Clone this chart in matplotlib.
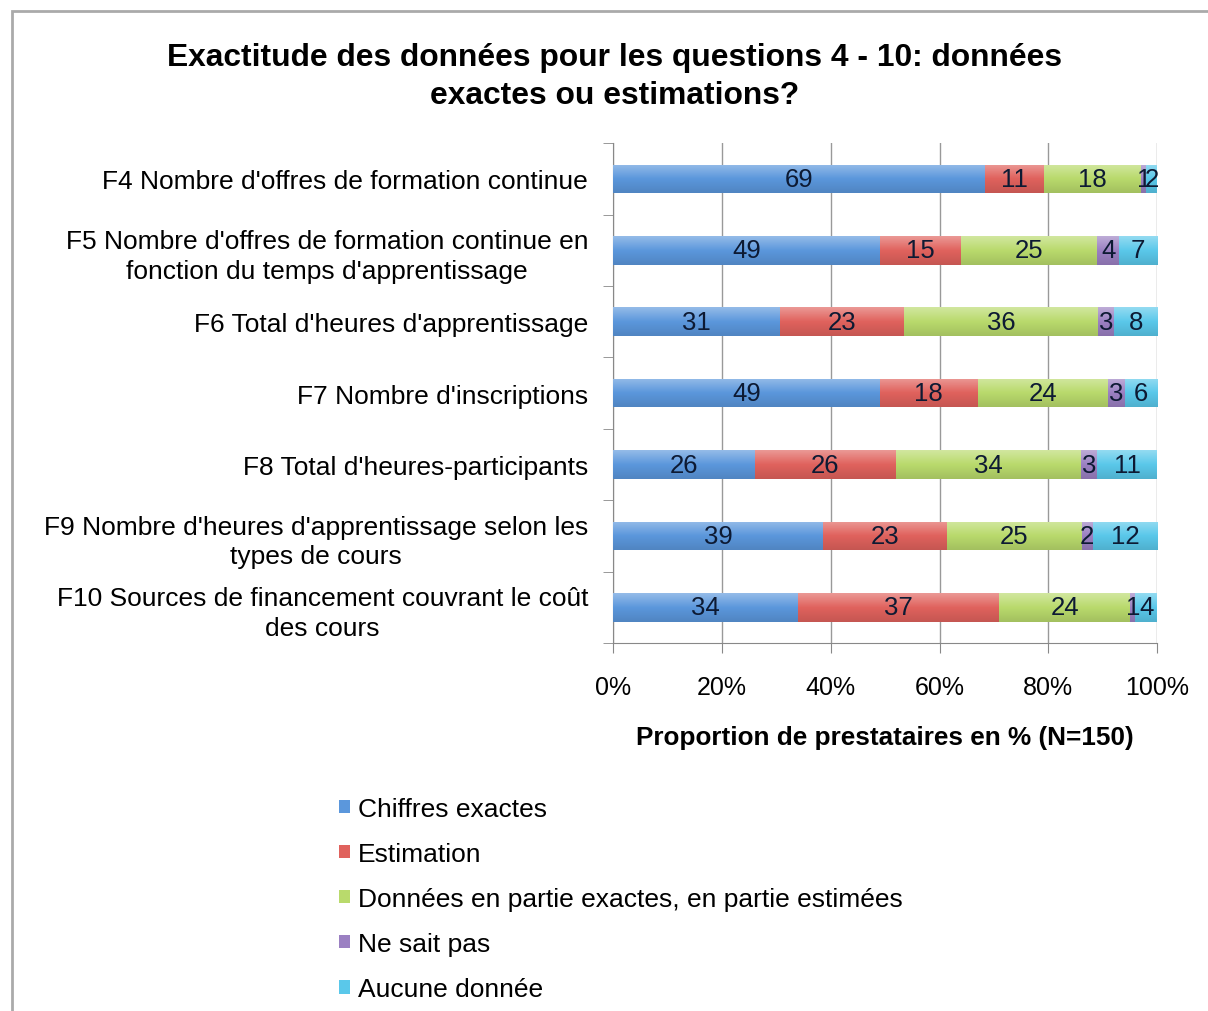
import numpy as np
import matplotlib
matplotlib.use('Agg')
import matplotlib.pyplot as plt
from matplotlib.colors import to_rgb, LinearSegmentedColormap
from matplotlib.patches import Rectangle

plt.rcParams['font.family'] = ['Liberation Sans', 'DejaVu Sans']

categories = [
    "F4 Nombre d'offres de formation continue",
    "F5 Nombre d'offres de formation continue en\nfonction du temps d'apprentissage",
    "F6 Total d'heures d'apprentissage",
    "F7 Nombre d'inscriptions",
    "F8 Total d'heures-participants",
    "F9 Nombre d'heures d'apprentissage selon les\ntypes de cours",
    "F10 Sources de financement couvrant le coût\ndes cours",
]
series_names = [
    "Chiffres exactes",
    "Estimation",
    "Données en partie exactes, en partie estimées",
    "Ne sait pas",
    "Aucune donnée",
]
exactes = [69, 49, 31, 49, 26, 39, 34]
estimation = [11, 15, 23, 18, 26, 23, 37]
en_partie = [18, 25, 36, 24, 34, 25, 24]
ne_sait_pas = [1, 4, 3, 3, 3, 2, 1]
aucune = [2, 7, 8, 6, 11, 12, 4]
colors = ['#5b97dc', '#e0625d', '#b9da6c', '#9b80c2', '#5ac8ea']

values = np.array([exactes, estimation, en_partie, ne_sait_pas, aucune], dtype=float)
pct = values / values.sum(axis=0) * 100

fig = plt.figure(figsize=(12.08, 10.12), dpi=100)
ax = fig.add_axes([0.5075, 0.3635, 0.4505, 0.494])

y = np.arange(len(categories))
left = np.zeros(len(categories))
grad = np.linspace(0, 1, 64).reshape(-1, 1)
for i in range(len(series_names)):
    base = np.array(to_rgb(colors[i]))
    light = base + (1 - base) * 0.35
    dark = base * 0.88
    cmap = LinearSegmentedColormap.from_list('g%d' % i, [light, base, dark])
    bars = ax.barh(y, pct[i], left=left, height=0.4, color=colors[i],
                   label=series_names[i], zorder=3)
    for p in bars:
        x0, y0 = p.get_x(), p.get_y()
        im = ax.imshow(grad, cmap=cmap, aspect='auto', zorder=3.5,
                       extent=[x0, x0 + p.get_width(), y0 + p.get_height(), y0])
        im.set_clip_path(p)
    for j in range(len(categories)):
        ax.text(left[j] + pct[i][j] / 2, y[j], '{:d}'.format(int(values[i][j])),
                ha='center', va='center', fontsize=18.5, color='#0d1a33', zorder=4)
    left += pct[i]

ax.set_xlim(0, 100)
ax.set_ylim(len(categories) - 0.5, -0.5)
ax.set_xticks(np.arange(0, 101, 20))
ax.set_xticklabels(['{}%'.format(v) for v in range(0, 101, 20)], fontsize=18)
ax.set_yticks(y)
ax.set_yticklabels(categories, fontsize=19, linespacing=1.3, multialignment='center')
ax.set_yticks(np.arange(-0.5, len(categories), 1), minor=True)
ax.tick_params(axis='y', which='major', length=0, pad=18)
ax.tick_params(axis='y', which='minor', length=7, color='#888888')
ax.tick_params(axis='x', length=7, color='#888888', pad=16)
ax.grid(axis='x', color='#999999', linewidth=1, zorder=0)
for s in ['top', 'right']:
    ax.spines[s].set_visible(False)
for s in ['left', 'bottom']:
    ax.spines[s].set_color('#888888')
ax.set_xlabel('Proportion de prestataires en % (N=150)', fontsize=18.8,
              fontweight='bold', labelpad=19)

fig.suptitle("Exactitude des données pour les questions 4 - 10: données\nexactes ou estimations?",
             x=0.509, y=0.958, fontsize=22.9, fontweight='bold', linespacing=1.36)

handles, labels = ax.get_legend_handles_labels()
leg = fig.legend(handles, labels, loc='upper left', bbox_to_anchor=(0.272, 0.222),
                 frameon=False, fontsize=19, handlelength=0.4, handleheight=0.4,
                 handletextpad=0.3, labelspacing=0.8, borderaxespad=0)

fig.patches.append(Rectangle((12 / 1208, -0.1), 1.2, 1 - 12 / 1012 + 0.1,
                             transform=fig.transFigure, fill=False,
                             edgecolor='#aaaaaa', linewidth=2))

fig.savefig('out.png', dpi=100)
